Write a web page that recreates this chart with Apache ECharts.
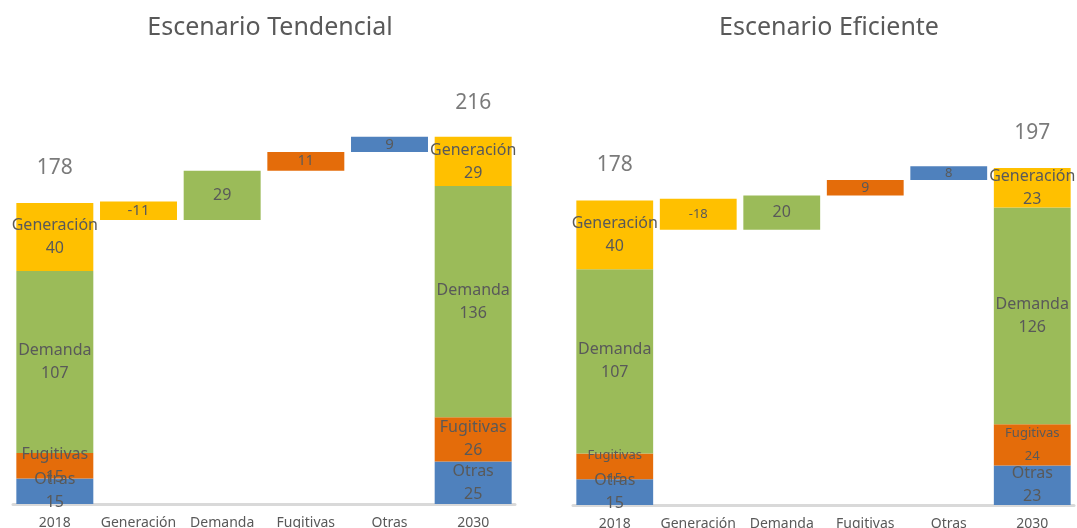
<!DOCTYPE html>
<html>
<head>
<meta charset="utf-8">
<script src="https://cdn.jsdelivr.net/npm/echarts@6/dist/echarts.min.js"></script>
<style>
  html, body { margin: 0; padding: 0; background: #fff; }
  #main { width: 1077px; height: 528px; }
</style>
</head>
<body>
<div id="main"></div>
<script>
// categories on the x axis
var categories = ['2018', 'Generación', 'Demanda', 'Fugitivas', 'Otras', '2030'];
// stack order, bottom to top
var sectors = ['Otras', 'Fugitivas', 'Demanda', 'Generación'];

// Escenario Tendencial (values in the same order as sectors)
var tendStart = [15, 15, 107, 40];
var tendEnd = [25, 26, 136, 29];
var tendSteps = [-11, 29, 11, 9]; // Generación, Demanda, Fugitivas, Otras
var tendTotals = [178, 216];

// Escenario Eficiente
var efStart = [15, 15, 107, 40];
var efEnd = [23, 24, 126, 23];
var efSteps = [-18, 20, 9, 8];
var efTotals = [178, 197];

var colors = {
  'Otras': '#4F81BD',
  'Fugitivas': '#E46C0A',
  'Demanda': '#9BBB59',
  'Generación': '#FFC000'
};
var textColor = '#595959';
var font = 'Noto Sans';

function buildSeries(idx, start, end, steps, totals, sizes) {
  var stack = 'wf' + idx;
  var series = [];

  // invisible base for the floating step bars
  var base = ['-'];
  var running = totals[0];
  steps.forEach(function (st) {
    base.push(st < 0 ? running + st : running);
    running += st;
  });
  base.push('-');
  series.push({
    type: 'bar', xAxisIndex: idx, yAxisIndex: idx, stack: stack,
    data: base, itemStyle: { color: 'transparent' }, silent: true,
    barWidth: '92%'
  });

  sectors.forEach(function (name, s) {
    var stepIdx = categories.indexOf(name);
    var data = categories.map(function (c, i) {
      if (i === 0) {
        return { value: start[s], label: { formatter: name + '\n' + start[s], fontSize: sizes.ends[name][0] } };
      }
      if (i === categories.length - 1) {
        return { value: end[s], label: { formatter: name + '\n' + end[s], fontSize: sizes.ends[name][1] } };
      }
      if (i === stepIdx) {
        var st = steps[i - 1];
        return { value: Math.abs(st), label: { formatter: String(st), fontSize: sizes.steps[i - 1] } };
      }
      return '-';
    });
    series.push({
      type: 'bar', name: name, xAxisIndex: idx, yAxisIndex: idx, stack: stack,
      data: data, barWidth: '92%',
      itemStyle: { color: colors[name] },
      label: {
        show: true, position: 'inside', color: textColor, fontFamily: font,
        lineHeight: 23
      }
    });
  });

  // totals above the 2018 and 2030 bars
  var tot = categories.map(function (c, i) {
    if (i === 0) return totals[0];
    if (i === categories.length - 1) return totals[1];
    return '-';
  });
  series.push({
    type: 'scatter', xAxisIndex: idx, yAxisIndex: idx, data: tot,
    symbolSize: 0, z: 10, silent: true,
    label: {
      show: true, position: 'top', distance: 23, color: textColor,
      fontFamily: font, fontSize: 21
    }
  });
  return series;
}

var tendSizes = {
  ends: { 'Otras': [16, 16], 'Fugitivas': [16, 16], 'Demanda': [16, 16], 'Generación': [16, 16] },
  steps: [15, 16, 14, 15]
};
var efSizes = {
  ends: { 'Otras': [16, 16], 'Fugitivas': [13, 13], 'Demanda': [16, 16], 'Generación': [16, 16] },
  steps: [13, 16, 14, 13]
};

function xAxis(idx) {
  return {
    type: 'category', gridIndex: idx, data: categories,
    axisTick: { show: false },
    axisLine: { lineStyle: { color: '#D9D9D9', width: 3 } },
    axisLabel: { interval: 0, color: textColor, fontFamily: font, fontSize: 14, margin: 12 }
  };
}
function yAxis(idx) {
  return { type: 'value', gridIndex: idx, min: 0, max: 250, show: false };
}

var chart = echarts.init(document.getElementById('main'));
chart.setOption({
  animation: false,
  title: [
    { text: 'Escenario Tendencial', left: 265, top: 10, textAlign: 'center',
      textStyle: { fontSize: 25, fontWeight: 'normal', color: textColor, fontFamily: font } },
    { text: 'Escenario Eficiente', left: 824, top: 10, textAlign: 'center',
      textStyle: { fontSize: 25, fontWeight: 'normal', color: textColor, fontFamily: font } }
  ],
  grid: [
    { left: 13, width: 502, top: 79, bottom: 24, containLabel: false, outerBoundsMode: 'none' },
    { left: 573, width: 501, top: 75, bottom: 23, containLabel: false, outerBoundsMode: 'none' }
  ],
  xAxis: [xAxis(0), xAxis(1)],
  yAxis: [yAxis(0), yAxis(1)],
  series: buildSeries(0, tendStart, tendEnd, tendSteps, tendTotals, tendSizes)
    .concat(buildSeries(1, efStart, efEnd, efSteps, efTotals, efSizes))
});
</script>
</body>
</html>
